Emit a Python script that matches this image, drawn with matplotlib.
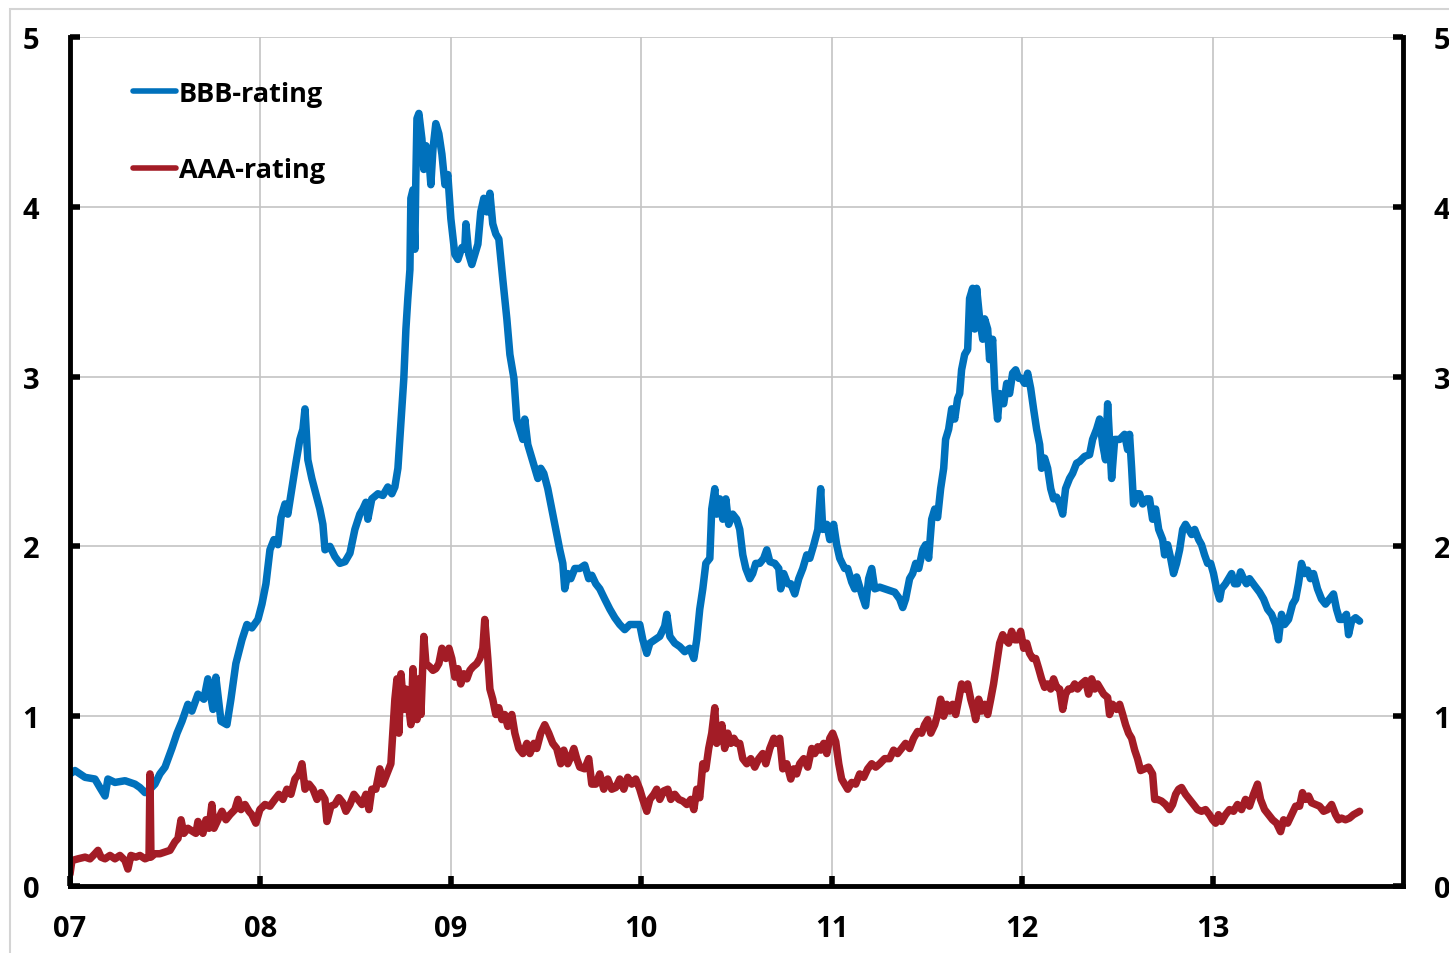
import matplotlib
matplotlib.use('Agg')
import matplotlib.pyplot as plt
from matplotlib.patches import Rectangle

# years since start of 2007
bbb_t = [0.000, 0.026, 0.079, 0.131, 0.157, 0.184, 0.199, 0.236, 0.289, 0.341, 0.367, 0.394, 0.420,
         0.446, 0.472, 0.499, 0.535, 0.562, 0.588, 0.619, 0.640, 0.672, 0.703, 0.724, 0.751, 0.766,
         0.793, 0.824, 0.845, 0.871, 0.903, 0.929, 0.955, 0.987, 1.008, 1.029, 1.050, 1.071, 1.092,
         1.108, 1.129, 1.144, 1.165, 1.186, 1.207, 1.223, 1.234, 1.249, 1.270, 1.291, 1.312, 1.328,
         1.339, 1.365, 1.391, 1.417, 1.444, 1.470, 1.496, 1.522, 1.538, 1.554, 1.564, 1.585, 1.617,
         1.643, 1.669, 1.690, 1.706, 1.722, 1.732, 1.753, 1.764, 1.774, 1.785, 1.790, 1.801, 1.811,
         1.816, 1.822, 1.832, 1.848, 1.858, 1.869, 1.885, 1.895, 1.906, 1.921, 1.937, 1.953, 1.969,
         1.984, 2.000, 2.021, 2.037, 2.058, 2.073, 2.079, 2.094, 2.110, 2.126, 2.142, 2.157, 2.173,
         2.189, 2.205, 2.220, 2.236, 2.252, 2.273, 2.294, 2.310, 2.331, 2.346, 2.362, 2.378, 2.388,
         2.404, 2.420, 2.441, 2.457, 2.472, 2.488, 2.509, 2.530, 2.551, 2.572, 2.588, 2.598, 2.614,
         2.630, 2.651, 2.677, 2.703, 2.724, 2.740, 2.761, 2.782, 2.808, 2.835, 2.861, 2.887, 2.913,
         2.940, 2.966, 2.992, 3.008, 3.029, 3.045, 3.071, 3.097, 3.123, 3.134, 3.150, 3.176, 3.202,
         3.228, 3.255, 3.276, 3.291, 3.307, 3.323, 3.339, 3.360, 3.370, 3.386, 3.396, 3.412, 3.428,
         3.444, 3.459, 3.480, 3.501, 3.517, 3.533, 3.549, 3.570, 3.585, 3.601, 3.622, 3.643, 3.659,
         3.675, 3.701, 3.722, 3.732, 3.748, 3.769, 3.785, 3.806, 3.827, 3.848, 3.869, 3.885, 3.906,
         3.927, 3.942, 3.953, 3.974, 3.990, 4.010, 4.026, 4.042, 4.068, 4.084, 4.105, 4.121, 4.131,
         4.147, 4.163, 4.178, 4.194, 4.210, 4.226, 4.252, 4.278, 4.304, 4.331, 4.357, 4.373, 4.388,
         4.409, 4.425, 4.441, 4.457, 4.478, 4.493, 4.509, 4.525, 4.541, 4.556, 4.572, 4.588, 4.598,
         4.614, 4.630, 4.646, 4.661, 4.672, 4.682, 4.698, 4.714, 4.724, 4.740, 4.751, 4.761, 4.777,
         4.793, 4.803, 4.819, 4.829, 4.845, 4.856, 4.871, 4.882, 4.903, 4.919, 4.934, 4.950, 4.966,
         4.982, 4.997, 5.013, 5.029, 5.045, 5.060, 5.076, 5.092, 5.102, 5.118, 5.134, 5.150, 5.165,
         5.181, 5.197, 5.213, 5.228, 5.249, 5.265, 5.286, 5.302, 5.328, 5.354, 5.370, 5.391, 5.407,
         5.423, 5.438, 5.449, 5.459, 5.470, 5.486, 5.512, 5.538, 5.554, 5.564, 5.575, 5.585, 5.601,
         5.617, 5.633, 5.654, 5.669, 5.685, 5.701, 5.717, 5.738, 5.748, 5.764, 5.780, 5.795, 5.811,
         5.827, 5.843, 5.858, 5.874, 5.890, 5.906, 5.927, 5.942, 5.958, 5.974, 5.990, 6.005, 6.021,
         6.037, 6.047, 6.068, 6.084, 6.100, 6.115, 6.131, 6.147, 6.163, 6.178, 6.194, 6.220, 6.247,
         6.268, 6.289, 6.310, 6.331, 6.346, 6.362, 6.378, 6.399, 6.420, 6.436, 6.451, 6.467, 6.483,
         6.499, 6.514, 6.530, 6.551, 6.572, 6.593, 6.614, 6.635, 6.651, 6.667, 6.682, 6.703, 6.714,
         6.730, 6.751, 6.772]
bbb = [0.66, 0.68, 0.64, 0.63, 0.58, 0.53, 0.63, 0.61, 0.62, 0.60, 0.58, 0.55, 0.57,
       0.60, 0.66, 0.70, 0.81, 0.90, 0.97, 1.07, 1.03, 1.13, 1.10, 1.22, 1.04, 1.23,
       0.97, 0.95, 1.10, 1.31, 1.45, 1.54, 1.52, 1.57, 1.66, 1.78, 1.98, 2.04, 2.01,
       2.17, 2.25, 2.19, 2.34, 2.49, 2.63, 2.69, 2.81, 2.51, 2.40, 2.31, 2.22, 2.13,
       1.98, 2.00, 1.94, 1.90, 1.91, 1.96, 2.10, 2.19, 2.22, 2.26, 2.16, 2.28, 2.31,
       2.30, 2.35, 2.31, 2.35, 2.46, 2.63, 2.99, 3.28, 3.46, 3.63, 4.05, 4.10, 3.75,
       4.16, 4.52, 4.55, 4.40, 4.22, 4.36, 4.28, 4.13, 4.34, 4.49, 4.43, 4.31, 4.13,
       4.19, 3.93, 3.72, 3.69, 3.76, 3.75, 3.90, 3.72, 3.66, 3.72, 3.78, 3.97, 4.05,
       3.97, 4.08, 3.90, 3.84, 3.81, 3.57, 3.34, 3.13, 2.99, 2.75, 2.69, 2.63, 2.75,
       2.60, 2.54, 2.46, 2.40, 2.46, 2.43, 2.34, 2.22, 2.10, 1.98, 1.90, 1.75, 1.84,
       1.81, 1.87, 1.87, 1.89, 1.81, 1.83, 1.78, 1.75, 1.69, 1.63, 1.58, 1.54, 1.51,
       1.54, 1.54, 1.54, 1.45, 1.37, 1.43, 1.45, 1.47, 1.53, 1.60, 1.47, 1.43, 1.41,
       1.38, 1.40, 1.34, 1.45, 1.63, 1.75, 1.90, 1.93, 2.22, 2.34, 2.19, 2.28, 2.16,
       2.28, 2.13, 2.19, 2.16, 2.10, 1.95, 1.87, 1.81, 1.84, 1.90, 1.90, 1.93, 1.98,
       1.91, 1.90, 1.87, 1.75, 1.84, 1.78, 1.78, 1.72, 1.81, 1.87, 1.95, 1.93, 2.01,
       2.10, 2.34, 2.10, 2.13, 2.04, 2.13, 2.01, 1.93, 1.87, 1.87, 1.79, 1.75, 1.82,
       1.76, 1.70, 1.65, 1.81, 1.87, 1.75, 1.76, 1.75, 1.74, 1.73, 1.69, 1.64, 1.69,
       1.81, 1.84, 1.90, 1.87, 1.98, 2.01, 1.93, 2.16, 2.22, 2.17, 2.34, 2.46, 2.63,
       2.69, 2.81, 2.75, 2.87, 2.90, 3.04, 3.13, 3.16, 3.46, 3.52, 3.28, 3.52, 3.34,
       3.22, 3.34, 3.28, 3.10, 3.22, 2.93, 2.75, 2.90, 2.84, 2.96, 2.90, 3.02, 3.04,
       2.99, 2.99, 2.96, 3.02, 2.93, 2.81, 2.69, 2.60, 2.46, 2.52, 2.46, 2.34, 2.28,
       2.29, 2.25, 2.19, 2.34, 2.40, 2.43, 2.49, 2.50, 2.53, 2.54, 2.63, 2.69, 2.75,
       2.60, 2.51, 2.84, 2.63, 2.40, 2.63, 2.63, 2.66, 2.57, 2.66, 2.46, 2.25, 2.31,
       2.31, 2.25, 2.28, 2.28, 2.16, 2.22, 2.10, 2.04, 1.95, 2.01, 1.93, 1.84, 1.90,
       1.98, 2.10, 2.13, 2.10, 2.07, 2.10, 2.04, 2.01, 1.95, 1.90, 1.90, 1.84, 1.75,
       1.69, 1.75, 1.78, 1.81, 1.84, 1.78, 1.78, 1.85, 1.81, 1.78, 1.81, 1.77, 1.73,
       1.69, 1.63, 1.60, 1.54, 1.45, 1.60, 1.54, 1.57, 1.66, 1.69, 1.78, 1.90, 1.84,
       1.86, 1.81, 1.84, 1.75, 1.69, 1.66, 1.69, 1.72, 1.63, 1.57, 1.57, 1.60, 1.48,
       1.56, 1.58, 1.56]

aaa_t = [0.000, 0.010, 0.042, 0.079, 0.105, 0.131, 0.147, 0.163, 0.184, 0.210, 0.236, 0.262, 0.289,
         0.304, 0.320, 0.346, 0.367, 0.394, 0.415, 0.420, 0.425, 0.446, 0.472, 0.499, 0.525, 0.551,
         0.567, 0.583, 0.598, 0.619, 0.646, 0.661, 0.672, 0.698, 0.714, 0.730, 0.745, 0.756, 0.777,
         0.798, 0.819, 0.840, 0.866, 0.882, 0.898, 0.919, 0.940, 0.955, 0.976, 0.997, 1.024, 1.050,
         1.076, 1.097, 1.118, 1.139, 1.160, 1.181, 1.202, 1.218, 1.234, 1.255, 1.276, 1.297, 1.318,
         1.339, 1.349, 1.370, 1.391, 1.412, 1.433, 1.449, 1.470, 1.491, 1.512, 1.533, 1.554, 1.570,
         1.585, 1.606, 1.627, 1.643, 1.664, 1.685, 1.696, 1.706, 1.717, 1.727, 1.738, 1.753, 1.764,
         1.774, 1.790, 1.801, 1.811, 1.822, 1.832, 1.843, 1.858, 1.869, 1.890, 1.906, 1.921, 1.937,
         1.953, 1.974, 1.990, 2.005, 2.021, 2.037, 2.052, 2.068, 2.084, 2.100, 2.115, 2.136, 2.152,
         2.168, 2.178, 2.194, 2.205, 2.220, 2.236, 2.252, 2.268, 2.283, 2.299, 2.320, 2.336, 2.357,
         2.378, 2.399, 2.415, 2.436, 2.451, 2.472, 2.493, 2.514, 2.535, 2.556, 2.577, 2.593, 2.614,
         2.630, 2.646, 2.661, 2.677, 2.703, 2.724, 2.740, 2.761, 2.782, 2.803, 2.824, 2.845, 2.866,
         2.887, 2.908, 2.929, 2.950, 2.971, 2.992, 3.008, 3.029, 3.045, 3.066, 3.081, 3.097, 3.118,
         3.139, 3.155, 3.176, 3.197, 3.218, 3.239, 3.260, 3.276, 3.291, 3.307, 3.323, 3.339, 3.354,
         3.370, 3.386, 3.396, 3.412, 3.423, 3.438, 3.454, 3.470, 3.486, 3.501, 3.517, 3.533, 3.554,
         3.575, 3.596, 3.617, 3.638, 3.654, 3.675, 3.696, 3.711, 3.727, 3.743, 3.764, 3.785, 3.801,
         3.816, 3.832, 3.853, 3.874, 3.895, 3.911, 3.927, 3.942, 3.958, 3.974, 3.990, 4.005, 4.021,
         4.037, 4.052, 4.068, 4.084, 4.105, 4.126, 4.147, 4.168, 4.189, 4.210, 4.231, 4.252, 4.278,
         4.304, 4.325, 4.346, 4.367, 4.388, 4.409, 4.430, 4.451, 4.472, 4.488, 4.504, 4.520, 4.541,
         4.556, 4.572, 4.588, 4.604, 4.619, 4.635, 4.651, 4.667, 4.682, 4.698, 4.714, 4.730, 4.745,
         4.756, 4.772, 4.787, 4.803, 4.819, 4.835, 4.850, 4.866, 4.882, 4.898, 4.913, 4.929, 4.945,
         4.961, 4.976, 4.992, 5.008, 5.024, 5.039, 5.055, 5.071, 5.087, 5.102, 5.118, 5.134, 5.150,
         5.165, 5.181, 5.197, 5.213, 5.228, 5.244, 5.260, 5.276, 5.291, 5.312, 5.333, 5.349, 5.365,
         5.381, 5.396, 5.412, 5.428, 5.449, 5.459, 5.475, 5.496, 5.512, 5.528, 5.543, 5.559, 5.575,
         5.591, 5.606, 5.622, 5.643, 5.664, 5.685, 5.696, 5.711, 5.732, 5.753, 5.774, 5.790, 5.806,
         5.822, 5.837, 5.858, 5.879, 5.900, 5.921, 5.942, 5.963, 5.984, 6.000, 6.016, 6.031, 6.047,
         6.068, 6.089, 6.110, 6.131, 6.152, 6.173, 6.194, 6.215, 6.236, 6.252, 6.273, 6.294, 6.315,
         6.336, 6.357, 6.373, 6.394, 6.415, 6.436, 6.457, 6.472, 6.488, 6.504, 6.520, 6.541, 6.562,
         6.583, 6.604, 6.625, 6.646, 6.661, 6.677, 6.698, 6.719, 6.740, 6.772]
aaa = [0.07, 0.15, 0.16, 0.17, 0.16, 0.19, 0.21, 0.17, 0.16, 0.18, 0.16, 0.18, 0.15,
       0.10, 0.18, 0.17, 0.18, 0.16, 0.17, 0.66, 0.17, 0.19, 0.19, 0.20, 0.21, 0.26,
       0.28, 0.39, 0.31, 0.34, 0.32, 0.31, 0.38, 0.31, 0.39, 0.34, 0.48, 0.34, 0.39,
       0.44, 0.39, 0.42, 0.45, 0.51, 0.45, 0.48, 0.44, 0.42, 0.37, 0.45, 0.48, 0.47,
       0.51, 0.54, 0.51, 0.57, 0.54, 0.63, 0.66, 0.72, 0.57, 0.60, 0.57, 0.51, 0.55,
       0.51, 0.38, 0.47, 0.48, 0.52, 0.49, 0.44, 0.48, 0.54, 0.51, 0.48, 0.54, 0.45,
       0.57, 0.57, 0.69, 0.60, 0.66, 0.72, 0.92, 1.10, 1.22, 0.90, 1.25, 1.04, 1.16,
       1.10, 0.95, 1.28, 1.10, 0.98, 1.22, 1.01, 1.47, 1.31, 1.29, 1.27, 1.28, 1.31,
       1.40, 1.34, 1.40, 1.34, 1.23, 1.28, 1.19, 1.25, 1.22, 1.27, 1.29, 1.31, 1.34,
       1.40, 1.57, 1.34, 1.16, 1.10, 1.01, 1.05, 0.98, 1.01, 0.94, 1.01, 0.90, 0.81,
       0.78, 0.84, 0.78, 0.84, 0.81, 0.90, 0.95, 0.90, 0.84, 0.81, 0.72, 0.80, 0.72,
       0.76, 0.81, 0.75, 0.70, 0.69, 0.75, 0.60, 0.60, 0.66, 0.57, 0.63, 0.57, 0.58,
       0.63, 0.57, 0.64, 0.60, 0.63, 0.57, 0.51, 0.44, 0.51, 0.54, 0.57, 0.51, 0.56,
       0.57, 0.51, 0.54, 0.51, 0.50, 0.48, 0.51, 0.45, 0.57, 0.52, 0.72, 0.69, 0.81,
       0.90, 1.05, 0.84, 0.87, 0.95, 0.81, 0.90, 0.84, 0.87, 0.84, 0.84, 0.75, 0.72,
       0.75, 0.70, 0.75, 0.78, 0.72, 0.81, 0.87, 0.84, 0.87, 0.69, 0.72, 0.63, 0.69,
       0.66, 0.72, 0.75, 0.70, 0.81, 0.78, 0.82, 0.80, 0.84, 0.78, 0.87, 0.90, 0.85,
       0.72, 0.63, 0.60, 0.57, 0.61, 0.60, 0.66, 0.64, 0.69, 0.72, 0.70, 0.72, 0.75,
       0.75, 0.80, 0.78, 0.81, 0.84, 0.81, 0.87, 0.91, 0.90, 0.95, 0.98, 0.90, 0.95,
       1.01, 1.10, 1.00, 1.07, 1.03, 1.07, 1.01, 1.10, 1.19, 1.16, 1.19, 1.10, 1.04,
       0.98, 1.10, 1.03, 1.07, 1.01, 1.10, 1.19, 1.31, 1.43, 1.48, 1.45, 1.43, 1.50,
       1.45, 1.45, 1.50, 1.40, 1.43, 1.37, 1.34, 1.34, 1.28, 1.22, 1.17, 1.19, 1.16,
       1.22, 1.17, 1.16, 1.04, 1.13, 1.16, 1.16, 1.19, 1.16, 1.19, 1.21, 1.13, 1.22,
       1.16, 1.19, 1.16, 1.13, 1.11, 1.01, 1.07, 1.04, 1.07, 1.01, 0.95, 0.90, 0.87,
       0.80, 0.75, 0.68, 0.69, 0.70, 0.66, 0.51, 0.51, 0.50, 0.48, 0.45, 0.48, 0.54,
       0.57, 0.58, 0.54, 0.51, 0.48, 0.45, 0.44, 0.45, 0.42, 0.39, 0.37, 0.42, 0.38,
       0.42, 0.45, 0.44, 0.48, 0.45, 0.51, 0.47, 0.54, 0.60, 0.51, 0.45, 0.42, 0.39,
       0.37, 0.32, 0.39, 0.37, 0.42, 0.47, 0.47, 0.55, 0.51, 0.53, 0.49, 0.48, 0.47,
       0.44, 0.45, 0.48, 0.42, 0.39, 0.40, 0.39, 0.40, 0.42, 0.44]

year_ticks = [0, 1, 2, 3, 4, 5, 6]
year_labels = ['07', '08', '09', '10', '11', '12', '13']
y_ticks = [0, 1, 2, 3, 4, 5]

blue = '#0071bc'
red = '#a31c26'

plt.rcParams['font.family'] = ['Open Sans', 'DejaVu Sans']
plt.rcParams['font.weight'] = 'bold'

fig = plt.figure(figsize=(14.49, 9.54), dpi=100)
ax = fig.add_axes([70 / 1449, 67 / 954, 1333 / 1449, 849 / 954])

# light frame around the figure
fig.patches.append(Rectangle((10 / 1449, -0.2), 1.2, 1.2 - 10 / 954, transform=fig.transFigure,
                             fill=False, edgecolor='#d4d4d4', linewidth=1.5, zorder=0))

ax.plot(bbb_t, bbb, color=blue, lw=5.4, solid_joinstyle='round', solid_capstyle='round', label='BBB-rating')
ax.plot(aaa_t, aaa, color=red, lw=5.4, solid_joinstyle='round', solid_capstyle='round', label='AAA-rating')

ax.set_xlim(0, 7)
ax.set_ylim(0, 5)
ax.set_xticks(year_ticks)
ax.set_xticklabels(year_labels)
ax.set_yticks(y_ticks)
ax.grid(True, color='#c4c4c4', lw=1.2)
ax.set_axisbelow(True)

for s in ['left', 'bottom', 'right']:
    ax.spines[s].set_linewidth(3.5)
    ax.spines[s].set_color('black')
ax.spines['top'].set_visible(False)

ax.tick_params(axis='x', direction='in', length=7, width=4, labelsize=21, pad=20)
ax.tick_params(axis='y', direction='in', length=7, width=4, labelsize=21, pad=22,
               right=True, labelright=True)

leg = ax.legend(loc='upper left', bbox_to_anchor=(0.029, 0.977), frameon=False, fontsize=19.5,
                handlelength=1.6, handletextpad=0.1, labelspacing=1.85)
for line in leg.get_lines():
    line.set_linewidth(4)

fig.savefig('out.png', dpi=100)
